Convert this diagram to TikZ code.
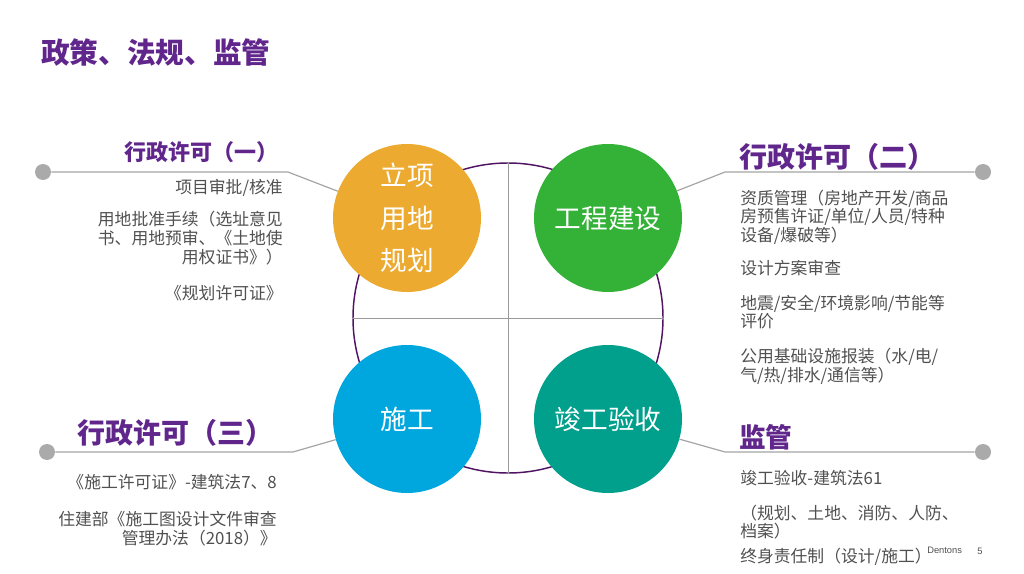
\documentclass[tikz,border=0pt]{standalone}
\usepackage{fontspec}
\setmainfont{Noto Sans CJK SC}
\setsansfont{Liberation Sans}
\usetikzlibrary{positioning}

\definecolor{titlepurple}{RGB}{96,38,140}
\definecolor{ringpurple}{RGB}{80,20,100}
\definecolor{bodygray}{RGB}{80,80,80}
\definecolor{leadergray}{RGB}{165,165,165}
\definecolor{dotgray}{RGB}{170,170,170}
\definecolor{ballorange}{RGB}{236,170,48}
\definecolor{ballgreen}{RGB}{52,178,56}
\definecolor{ballblue}{RGB}{0,166,222}
\definecolor{ballteal}{RGB}{0,160,140}

\begin{document}
\begin{tikzpicture}
[
	x	= 0.75pt,	% one pixel of the slide
	y	= -0.75pt,	% pixels are counted downwards
	ball/.style	= {circle, minimum size=111pt, inner sep=0pt, text=white, font=\fontsize{20}{32}\selectfont, align=center},
	head/.style	= {inner sep=0pt, text=titlepurple, font=\bfseries},
	body/.style	= {inner sep=0pt, text=bodygray, font=\fontsize{12.6}{14}\selectfont},
	leader/.style	= {draw=leadergray, line width=0.9pt},
	knob/.style	= {circle, fill=dotgray, minimum size=12pt, inner sep=0pt},
]

\useasboundingbox (0,0) rectangle (1024,574);

% title
\node [head, anchor=west, font=\bfseries\fontsize{21.5}{24}\selectfont] (title) at (41,53) {政策、法规、监管};

% the ring and its cross
\node [circle, draw=ringpurple, line width=1.1pt, minimum size=232.5pt, inner sep=0pt] (ring) at (508,318) {};
\draw [color=gray!80, line width=0.6pt] (ring.north) -- (ring.south);
\draw [color=gray!80, line width=0.6pt] (ring.west) -- (ring.east);

% the four stages
\node [ball, fill=ballorange] (lixiang) at (407,218) {立项\\用地\\规划};
\node [ball, fill=ballgreen] (gongcheng) at (608,218) {工程建设};
\node [ball, fill=ballblue] (shigong) at (407,419) {施工};
\node [ball, fill=ballteal] (jungong) at (608,419) {竣工验收};

% leader lines
\node [knob] (dotOne) at (43,172) {};
\node [knob] (dotTwo) at (983,172) {};
\node [knob] (dotThree) at (47,452) {};
\node [knob] (dotFour) at (983,452) {};
\coordinate (elbowOne) at (288,172);
\coordinate (elbowTwo) at (725,172);
\coordinate (elbowThree) at (293,452);
\coordinate (elbowFour) at (725,452);
\draw [leader] (dotOne) -- (elbowOne) -- (lixiang);
\draw [leader] (dotTwo) -- (elbowTwo) -- (gongcheng);
\draw [leader] (dotThree) -- (elbowThree) -- (shigong);
\draw [leader] (dotFour) -- (elbowFour) -- (jungong);

% upper left
\node [head, anchor=west, font=\bfseries\fontsize{16.5}{20}\selectfont] (headOne) at (124,152) {行政许可（一）};
\node [body, anchor=east] (itemOneA) at (283,188) {项目审批/核准};
\node [body, anchor=east, align=right] (itemOneB) at (283,238) {用地批准手续（选址意见\\书、用地预审、《土地使\\用权证书》）};
\node [body, anchor=east] (itemOneC) at (283,293) {《规划许可证》};

% upper right
\node [head, anchor=west, font=\bfseries\fontsize{21}{24}\selectfont] (headTwo) at (739,157) {行政许可（二）};
\node [body, anchor=west, align=left] (itemTwoA) at (740,217) {资质管理（房地产开发/商品\\房预售许证/单位/人员/特种\\设备/爆破等）};
\node [body, anchor=west] (itemTwoB) at (740,268) {设计方案审查};
\node [body, anchor=west, align=left] (itemTwoC) at (740,312) {地震/安全/环境影响/节能等\\评价};
\node [body, anchor=west, align=left] (itemTwoD) at (740,366) {公用基础设施报装（水/电/\\气/热/排水/通信等）};

% lower left
\node [head, anchor=west, font=\bfseries\fontsize{21}{24}\selectfont] (headThree) at (77,433) {行政许可（三）};
\node [body, anchor=east] (itemThreeA) at (277,482) {《施工许可证》-建筑法7、8};
\node [body, anchor=east, align=right] (itemThreeB) at (277,529) {住建部《施工图设计文件审查\\管理办法（2018）》};

% lower right
\node [head, anchor=west, font=\bfseries\fontsize{20}{24}\selectfont] (headFour) at (739,437) {监管};
\node [body, anchor=west] (itemFourA) at (740,478) {竣工验收-建筑法61};
\node [body, anchor=west, align=left] (itemFourB) at (740,522) {（规划、土地、消防、人防、\\档案）};
\node [body, anchor=west] (itemFourC) at (740,557) {终身责任制（设计/施工）};

% footer
\node [inner sep=0pt, anchor=west, text=bodygray, font=\sffamily\fontsize{7}{8}\selectfont] (brand) at (927,550) {Dentons};
\node [inner sep=0pt, text=bodygray, font=\sffamily\fontsize{7}{8}\selectfont] (pageno) at (980,551) {5};

\end{tikzpicture}
\end{document}
